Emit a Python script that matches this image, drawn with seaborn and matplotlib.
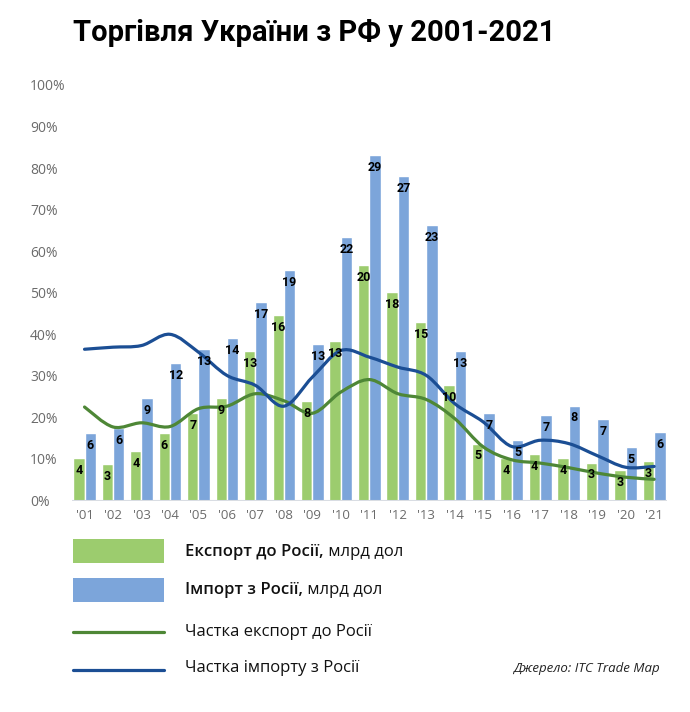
import numpy as np
import pandas as pd
import matplotlib
matplotlib.use('Agg')
import matplotlib.pyplot as plt
from matplotlib.path import Path
from matplotlib.patches import PathPatch, Rectangle
from matplotlib.lines import Line2D
import seaborn as sns

# Дані
years = ["'01", "'02", "'03", "'04", "'05", "'06", "'07", "'08", "'09", "'10", "'11",
         "'12", "'13", "'14", "'15", "'16", "'17", "'18", "'19", "'20", "'21"]
# експорт / імпорт, млрд дол
export_bn = [3.6, 3.1, 4.2, 5.7, 7.35, 8.6, 12.6, 15.6, 8.4, 13.4, 19.8,
             17.6, 15.05, 9.7, 4.8, 3.6, 3.9, 3.6, 3.2, 2.6, 3.3]
import_bn = [5.7, 6.1, 8.6, 11.6, 12.8, 13.7, 16.7, 19.4, 13.2, 22.2, 29.1,
             27.3, 23.2, 12.6, 7.35, 5.1, 7.2, 8.0, 6.9, 4.5, 5.8]
# частки, %
export_share = [22.5, 17.7, 18.7, 17.8, 22.1, 22.7, 25.7, 24.0, 21.0, 26.1, 29.1,
                25.7, 24.3, 19.7, 12.9, 9.8, 9.0, 7.9, 6.6, 5.6, 5.1]
import_share = [36.4, 36.9, 37.3, 40.0, 35.7, 30.1, 27.7, 22.7, 29.7, 36.1, 34.5,
                32.1, 30.1, 23.3, 18.9, 13.0, 14.5, 13.7, 10.8, 8.0, 8.2]

series = ['Експорт', 'Імпорт']
bar_colors = ['#9ccc6e', '#7ca5da']
line_green = '#4e8736'
line_blue = '#1b4e94'

df = pd.DataFrame({
    'year': years * 2,
    'value': export_bn + import_bn,
    'series': [series[0]] * len(years) + [series[1]] * len(years),
})

sns.set_theme(style='white')
plt.rcParams['font.family'] = ['Open Sans', 'DejaVu Sans']

W, H = 690, 712
fig = plt.figure(figsize=(W / 100, H / 100), dpi=100)

# вісь відсотків (лінії) і прихована вісь млрд дол (стовпці)
ax = fig.add_axes([72 / W, 1 - 500.5 / H, (667 - 72) / W, (500.5 - 85) / H])
axb = ax.twinx()

sns.barplot(data=df, x='year', y='value', hue='series', palette=bar_colors,
            width=0.8, saturation=1, ax=axb, legend=False)
axb.set_ylim(0, 35)
axb.set_yticks([])
axb.set_ylabel('')
axb.set_xlabel('')
for s in axb.spines.values():
    s.set_visible(False)

ax.set_zorder(axb.get_zorder() + 1)
ax.patch.set_visible(False)


def smooth_path(xs, ys):
    pts = np.column_stack([xs, ys]).astype(float)
    n = len(pts)
    verts = [pts[0]]
    codes = [Path.MOVETO]
    for i in range(n - 1):
        p0 = pts[i - 1] if i > 0 else pts[i]
        p1 = pts[i]
        p2 = pts[i + 1]
        p3 = pts[i + 2] if i + 2 < n else pts[i + 1]
        verts += [p1 + (p2 - p0) / 6, p2 - (p3 - p1) / 6, p2]
        codes += [Path.CURVE4] * 3
    return Path(verts, codes)


xpos = np.arange(len(years))
for vals, col in [(export_share, line_green), (import_share, line_blue)]:
    ax.add_patch(PathPatch(smooth_path(xpos, vals), fill=False, edgecolor=col,
                           lw=2.3, capstyle='round', joinstyle='round', zorder=3))

# підписи значень усередині стовпців
for cont, vals in zip(axb.containers, [export_bn, import_bn]):
    for bar, v in zip(cont, vals):
        ax.text(bar.get_x() + bar.get_width() / 2, bar.get_height() - 1.05,
                f'{round(v + 1e-9):d}', transform=axb.transData,
                ha='center', va='center', fontsize=9, fontweight='bold',
                color='black', zorder=5, family='Roboto')

ax.axhline(0, color='#d9dde3', lw=1.5, zorder=1)
ax.set_ylim(0, 100)
ax.set_xlim(-0.44, 20.45)
axb.set_xlim(-0.44, 20.45)
ax.set_yticks(range(0, 101, 10))
ax.set_yticklabels([f'{t}%' for t in range(0, 101, 10)])
ax.tick_params(axis='y', length=0, pad=30.2, labelsize=10, labelcolor='#6b6b6b')
for lbl in ax.get_yticklabels():
    lbl.set_ha('left')
ax.set_xticks(xpos)
ax.set_xticklabels(years)
ax.tick_params(axis='x', length=0, pad=6, labelsize=9.5, labelcolor='#6b6b6b')
axb.tick_params(axis='x', length=0, labelbottom=False)
for s in ax.spines.values():
    s.set_visible(False)

# заголовок
fig.text(73 / W, 1 - 40.7 / H, 'Торгівля України з РФ у 2001-2021', ha='left',
         va='baseline', fontsize=21, fontweight='bold', color='black', family='Roboto')

# легенда
fig.add_artist(Rectangle((73 / W, 1 - 562.5 / H), 91 / W, 23.5 / H,
                         transform=fig.transFigure, color=bar_colors[0], lw=0))
fig.add_artist(Rectangle((73 / W, 1 - 601.7 / H), 91 / W, 23.5 / H,
                         transform=fig.transFigure, color=bar_colors[1], lw=0))
fig.add_artist(Line2D([73 / W, 164 / W], [1 - 632.3 / H] * 2, transform=fig.transFigure,
                      color=line_green, lw=2.3))
fig.add_artist(Line2D([73 / W, 164 / W], [1 - 670 / H] * 2, transform=fig.transFigure,
                      color=line_blue, lw=2.3))

leg_rows = [('Експорт до Росії,', ' млрд дол', 551.7),
            ('Імпорт з Росії,', ' млрд дол', 590.0),
            ('', 'Частка експорт до Росії', 631.7),
            ('', 'Частка імпорту з Росії', 668.3)]
fig.canvas.draw()
renderer = fig.canvas.get_renderer()
for bold, reg, yy in leg_rows:
    x0 = 185 / W
    if bold:
        t = fig.text(x0, 1 - yy / H, bold, ha='left', va='center', fontsize=12,
                     fontweight='semibold', color='#111111')
        bb = t.get_window_extent(renderer=renderer)
        x0 = bb.x1 / W
    fig.text(x0, 1 - yy / H, reg, ha='left', va='center', fontsize=12, color='#111111')

fig.text(660 / W, 1 - 668.3 / H, 'Джерело: ITC Trade Map', ha='right', va='center',
         fontsize=9.5, style='italic', color='#222222')

fig.savefig('out.png', dpi=100)
